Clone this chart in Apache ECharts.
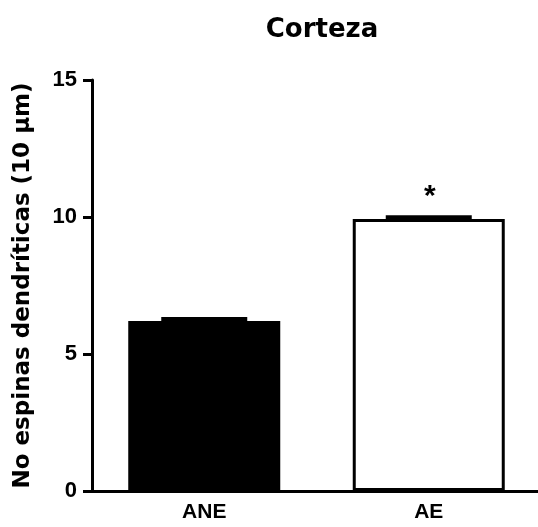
<!DOCTYPE html>
<html>
<head>
<meta charset="utf-8">
<script src="https://cdn.jsdelivr.net/npm/echarts@6/dist/echarts.min.js"></script>
<style>
  html, body { margin: 0; padding: 0; background: #fff; }
  #chart { width: 538px; height: 527px; }
</style>
</head>
<body>
<div id="chart"></div>
<script>
const categories = ['ANE', 'AE'];
const means = [6.2, 9.93];
const sems = [0.08, 0.065];
const marks = ['', '*'];

const chart = echarts.init(document.getElementById('chart'));

const arial = '"Liberation Sans", Arial, sans-serif';
const wide = '"DejaVu Sans", Arial, sans-serif';

const option = {
    backgroundColor: '#fff',
    animation: false,
    title: {
        text: 'Corteza',
        left: 317,
        top: 12,
        textAlign: 'center',
        textStyle: { fontFamily: wide, fontWeight: 'bold', fontSize: 26, color: '#000' }
    },
    grid: { left: 92, top: 80, width: 449, height: 411, outerBoundsMode: 'none' },
    xAxis: {
        type: 'category',
        data: categories,
        axisLine: { lineStyle: { color: '#000', width: 3 } },
        axisTick: { alignWithLabel: true, length: 10, lineStyle: { color: '#000', width: 3 } },
        axisLabel: { color: '#000', fontFamily: arial, fontWeight: 'bold', fontSize: 21, margin: 11 }
    },
    yAxis: {
        type: 'value',
        min: 0,
        max: 15,
        interval: 5,
        name: 'No espinas dendríticas (10 µm)',
        nameLocation: 'middle',
        nameGap: 57,
        nameTextStyle: { color: '#000', fontFamily: wide, fontWeight: 'bold', fontSize: 23 },
        axisLine: { show: true, lineStyle: { color: '#000', width: 3 } },
        axisTick: { show: true, length: 9, lineStyle: { color: '#000', width: 3 } },
        axisLabel: { color: '#000', fontFamily: arial, fontWeight: 'bold', fontSize: 22, margin: 15 },
        splitLine: { show: false }
    },
    series: [
        {
            type: 'bar',
            barWidth: 152,
            data: means.map((v, i) => ({
                value: v,
                itemStyle: i === 0
                    ? { color: '#000', borderColor: '#000', borderWidth: 3 }
                    : { color: '#fff', borderColor: '#000', borderWidth: 3 }
            })),
            z: 2
        },
        {
            type: 'custom',
            z: 3,
            data: means.map((v, i) => [i, v, v + sems[i]]),
            renderItem: (params, api) => {
                const base = api.coord([api.value(0), api.value(1)]);
                const top = api.coord([api.value(0), api.value(2)]);
                const half = 43;
                const children = [
                    { type: 'line', shape: { x1: base[0], y1: base[1], x2: top[0], y2: top[1] },
                      style: { stroke: '#000', lineWidth: 3 } },
                    { type: 'line', shape: { x1: top[0] - half, y1: top[1], x2: top[0] + half, y2: top[1] },
                      style: { stroke: '#000', lineWidth: 4 } }
                ];
                const m = marks[params.dataIndex];
                if (m) {
                    children.push({
                        type: 'text',
                        style: { text: m, x: top[0] + 1, y: top[1] - 20, align: 'center', verticalAlign: 'middle',
                                 fill: '#000', font: 'bold 30px ' + arial }
                    });
                }
                return { type: 'group', children };
            }
        }
    ]
};

chart.setOption(option);
</script>
</body>
</html>
